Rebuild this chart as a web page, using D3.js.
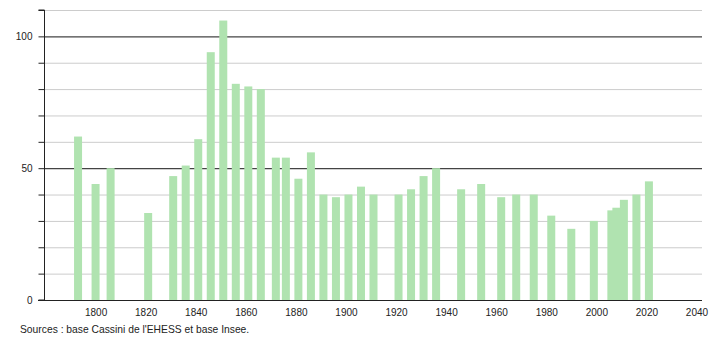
<!DOCTYPE html>
<html>
<head>
<meta charset="utf-8">
<script src="https://cdn.jsdelivr.net/npm/d3@7"></script>
<style>
    body { margin: 0; background: #fff; }
    text { font-family: "Liberation Sans", Arial, sans-serif; fill: #222; }
</style>
</head>
<body>
<div id="chart"></div>
<script>
const years = [1793, 1800, 1806, 1821, 1831, 1836, 1841, 1846, 1851, 1856, 1861, 1866, 1872, 1876, 1881, 1886, 1891, 1896, 1901, 1906, 1911, 1921, 1926, 1931, 1936, 1946, 1954, 1962, 1968, 1975, 1982, 1990, 1999, 2006, 2008, 2011, 2016, 2021];
const population = [62, 44, 50, 33, 47, 51, 61, 94, 106, 82, 81, 80, 54, 54, 46, 56, 40, 39, 40, 43, 40, 40, 42, 47, 50, 42, 44, 39, 40, 40, 32, 27, 30, 34, 35, 38, 40, 45];
const yearTicks = [1800, 1820, 1840, 1860, 1880, 1900, 1920, 1940, 1960, 1980, 2000, 2020, 2040];
const valueTicks = [0, 50, 100];
const source = "Sources : base Cassini de l'EHESS et base Insee.";

const width = 710, height = 340;
const margin = { top: 10, right: 8, bottom: 40, left: 44 };

const svg = d3.select("#chart").append("svg")
    .attr("width", width)
    .attr("height", height);

const x = d3.scaleLinear()
    .domain([1779.4, 2042.2])
    .range([margin.left, width - margin.right]);

const y = d3.scaleLinear()
    .domain([0, 110])
    .range([height - margin.bottom, margin.top]);

// gridlines, dark at every 50
svg.append("g")
    .selectAll("line")
    .data(d3.range(10, 111, 10))
    .join("line")
    .attr("x1", margin.left)
    .attr("x2", width - margin.right)
    .attr("y1", d => y(d) + 0.5)
    .attr("y2", d => y(d) + 0.5)
    .attr("stroke", d => d % 50 === 0 ? "#444" : "#ccc")
    .attr("stroke-width", d => d % 50 === 0 ? 1.2 : 1);

// bars
const barWidth = 8;
svg.append("g")
    .selectAll("rect")
    .data(years.map((yr, i) => ({ year: yr, value: population[i] })))
    .join("rect")
    .attr("x", d => x(d.year) - barWidth / 2)
    .attr("width", barWidth)
    .attr("y", d => y(d.value))
    .attr("height", d => y(0) - y(d.value))
    .attr("fill", "#b0e3b0");

// y axis
const yAxis = svg.append("g")
    .attr("transform", `translate(${margin.left + 0.5},0)`)
    .call(d3.axisLeft(y).tickValues(d3.range(0, 111, 10)).tickSize(6).tickFormat(d => valueTicks.includes(d) ? d : ""));
yAxis.select(".domain").attr("stroke", "#222").attr("d", `M-6,${y(0)}H0V${y(110)}H-6`);
yAxis.selectAll(".tick line").attr("stroke", "#222");
yAxis.selectAll(".tick text")
    .attr("x", -12)
    .style("font-size", "10px")
    .style("font-family", "Liberation Sans, Arial, sans-serif");

// x axis
const xAxis = svg.append("g")
    .attr("transform", `translate(0,${y(0) + 0.5})`)
    .call(d3.axisBottom(x).tickValues(yearTicks).tickSize(0).tickFormat(d3.format("d")));
xAxis.select(".domain").attr("stroke", "#222").attr("d", `M${margin.left - 6},0H${width - margin.right}`);
xAxis.selectAll(".tick text")
    .attr("dy", "1.2em")
    .style("font-size", "10px")
    .style("font-family", "Liberation Sans, Arial, sans-serif");

svg.append("text")
    .attr("x", 20)
    .attr("y", 333)
    .style("font-size", "10.3px")
    .text(source);
</script>
</body>
</html>
